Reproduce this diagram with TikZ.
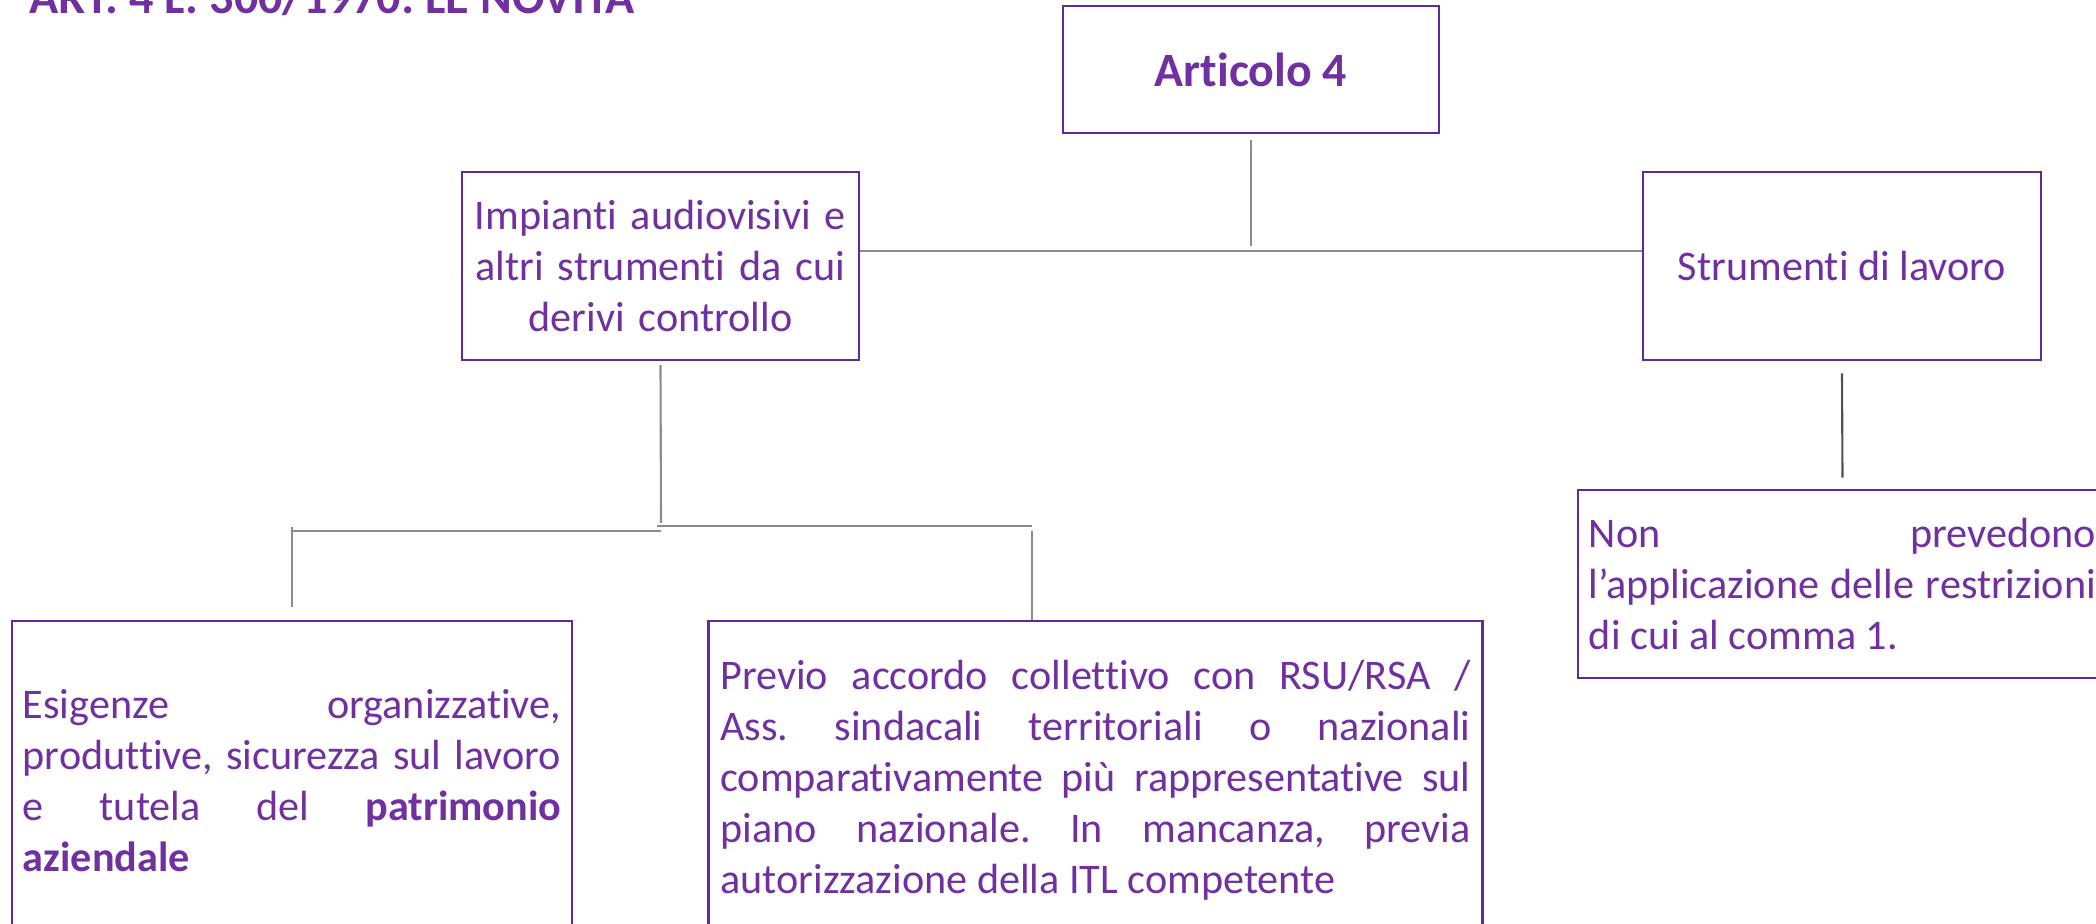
\documentclass[tikz,border=0pt]{standalone}
\usepackage{fontspec}
\setmainfont{Carlito}[Ligatures=NoCommon]
\frenchspacing
\definecolor{artpurple}{HTML}{7030A0}
\definecolor{artframe}{HTML}{5F2B99}
\definecolor{artlink}{HTML}{8C8C8C}
\definecolor{artlinkdark}{HTML}{505050}
\tikzset{
  artbox/.style={draw=artframe, line width=0.75pt, inner sep=0pt, text=artpurple,
    font=\fontsize{12}{14.5}\selectfont},
  justbox/.style={artbox, align=justify},
  link/.style={draw=artlink, line width=0.6pt},
}
\begin{document}
\begin{tikzpicture}[x=0.01cm, y=-0.01cm]
      \useasboundingbox (0,0) rectangle (2096,924);
      \hyphenpenalty=10000 \tolerance=10000
      \node[anchor=base west, inner sep=0pt, text=artpurple,
        font=\bfseries\fontsize{13.7}{16}\selectfont] (title) at (29,14) {ART. 4 L. 300/1970: LE NOVITÀ};
      \draw
        (1251,69.5) node[artbox, minimum width=3.76cm, minimum height=1.27cm,
          font=\bfseries\fontsize{13.6}{16}\selectfont] (art) {Articolo 4}
        (660.5,266) node[artbox, minimum width=3.97cm, minimum height=1.88cm,
          text width=3.8cm, align=center] (imp) {Impianti audiovisivi e\\ altri strumenti da cui\\ derivi controllo}
        (1842,266) node[artbox, minimum width=3.98cm, minimum height=1.88cm] (str) {Strumenti di lavoro}
        (292,780.5) node[justbox, minimum width=5.6cm, minimum height=3.19cm, text width=5.38cm] (esi)
          {Esigenze organizzative,\linebreak produttive, sicurezza sul lavoro\linebreak e tutela del \textbf{patrimonio}\linebreak \textbf{aziendale}}
        (1095.5,780.5) node[justbox, minimum width=7.73cm, minimum height=3.19cm, text width=7.5cm] (pre)
          {Previo accordo collettivo con RSU/RSA /\linebreak Ass. sindacali territoriali o nazionali\linebreak comparativamente più rappresentative sul\linebreak piano nazionale. In mancanza, previa\linebreak autorizzazione della ITL competente}
        (1842.5,584) node[justbox, minimum width=5.29cm, minimum height=1.88cm, text width=5.07cm] (non)
          {Non prevedono\linebreak l’applicazione delle restrizioni\linebreak di cui al comma 1.};
      \coordinate (hub) at (1251,251);
      \coordinate (lhub) at (661,531);
      \coordinate (rhub) at (661,526);
      \coordinate (rdrop) at (1032,526);
      \begin{scope}[link]
        \draw ([yshift=-1.7pt]art.south) -- ([yshift=1.4pt]hub);
        \draw (imp.east |- hub) -- (str.west |- hub);
        \draw ([yshift=-1.1pt]imp.south) -- ([yshift=2.3pt]lhub);
        \draw (lhub) -- (esi.north |- lhub);
        \draw ([xshift=-1.1pt]rhub) -- (rdrop);
        \draw ([yshift=1.1pt]esi.north |- lhub) -- ([yshift=3.7pt]esi.north);
        \draw ([yshift=-1.4pt]rdrop) -- (rdrop |- pre.north);
        \draw[artlinkdark] ([yshift=-3.4pt]str.south) -- ([yshift=3.1pt]non.north);
      \end{scope}
    \end{tikzpicture}
\end{document}
